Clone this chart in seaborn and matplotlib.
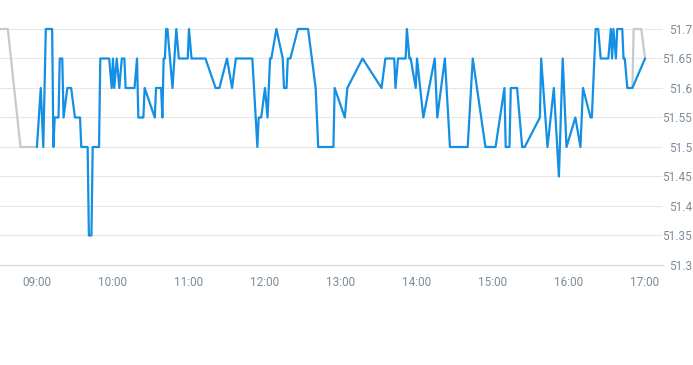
# intraday price line, blue for the session, grey for pre/after hours

import numpy as np
import pandas as pd
import seaborn as sns
import matplotlib
matplotlib.use('Agg')
import matplotlib.pyplot as plt
import matplotlib.dates as mdates

DAY = '2024-01-02 '

# session (blue)
session_times = [
  '09:00', '09:03', '09:05', '09:07', '09:12', '09:13', '09:14', '09:17', '09:18', '09:20',
  '09:21', '09:24', '09:27', '09:30', '09:34', '09:35', '09:40', '09:41', '09:43', '09:44',
  '09:49', '09:50', '09:57', '09:59', '10:00', '10:01', '10:03', '10:05', '10:07', '10:09',
  '10:10', '10:17', '10:19', '10:20', '10:24', '10:25', '10:33', '10:34', '10:38', '10:39',
  '10:40', '10:41', '10:42', '10:43', '10:47', '10:50', '10:52', '10:59', '11:00', '11:02',
  '11:13', '11:21', '11:24', '11:30', '11:34', '11:37', '11:50', '11:54', '11:55', '11:57',
  '12:00', '12:02', '12:04', '12:05', '12:09', '12:14', '12:15', '12:17', '12:18', '12:20',
  '12:26', '12:34', '12:40', '12:42', '12:54', '12:55', '13:03', '13:05', '13:17', '13:32',
  '13:35', '13:42', '13:43', '13:45', '13:51', '13:52', '13:54', '13:55', '13:59', '14:00',
  '14:05', '14:14', '14:16', '14:22', '14:26', '14:40', '14:44', '14:54', '15:02', '15:09',
  '15:10', '15:13', '15:14', '15:19', '15:23', '15:25', '15:37', '15:38', '15:43', '15:48',
  '15:52', '15:55', '15:58', '16:05', '16:09', '16:11', '16:17', '16:18', '16:21', '16:23',
  '16:25', '16:31', '16:33', '16:34', '16:35', '16:37', '16:38', '16:42', '16:43', '16:44',
  '16:46', '16:50', '17:00',
]
session_prices = [
  51.50, 51.60, 51.50, 51.70, 51.70, 51.50, 51.55, 51.55, 51.65, 51.65,
  51.55, 51.60, 51.60, 51.55, 51.55, 51.50, 51.50, 51.35, 51.35, 51.50,
  51.50, 51.65, 51.65, 51.60, 51.65, 51.60, 51.65, 51.60, 51.65, 51.65,
  51.60, 51.60, 51.65, 51.55, 51.55, 51.60, 51.55, 51.60, 51.60, 51.55,
  51.65, 51.65, 51.70, 51.70, 51.60, 51.70, 51.65, 51.65, 51.70, 51.65,
  51.65, 51.60, 51.60, 51.65, 51.60, 51.65, 51.65, 51.50, 51.55, 51.55,
  51.60, 51.55, 51.65, 51.65, 51.70, 51.65, 51.60, 51.60, 51.65, 51.65,
  51.70, 51.70, 51.60, 51.50, 51.50, 51.60, 51.55, 51.60, 51.65, 51.60,
  51.65, 51.65, 51.60, 51.65, 51.65, 51.70, 51.65, 51.65, 51.60, 51.65,
  51.55, 51.65, 51.55, 51.65, 51.50, 51.50, 51.65, 51.50, 51.50, 51.60,
  51.50, 51.50, 51.60, 51.60, 51.50, 51.50, 51.55, 51.65, 51.50, 51.60,
  51.45, 51.65, 51.50, 51.55, 51.50, 51.60, 51.55, 51.55, 51.70, 51.70,
  51.65, 51.65, 51.70, 51.65, 51.70, 51.65, 51.70, 51.70, 51.65, 51.65,
  51.60, 51.60, 51.65,
]

# pre-market (grey)
pre_times = ['08:25', '08:37', '08:47', '09:00']
pre_prices = [51.70, 51.70, 51.50, 51.50]

# after hours (grey)
post_times = ['16:50', '16:51', '16:57', '17:00']
post_prices = [51.60, 51.70, 51.70, 51.65]

y_ticks = [51.3, 51.35, 51.4, 51.45, 51.5, 51.55, 51.6, 51.65, 51.7]
y_labels = ['51.3', '51.35', '51.4', '51.45', '51.5', '51.55', '51.6', '51.65', '51.7']
x_ticks = ['09:00', '10:00', '11:00', '12:00', '13:00', '14:00', '15:00', '16:00', '17:00']

def frame(times, prices, part):
  return pd.DataFrame({'time': pd.to_datetime([DAY + t for t in times]),
                       'price': prices, 'part': part})

sns.set_style('white')
plt.rcParams['font.family'] = ['Liberation Sans Narrow', 'Roboto', 'DejaVu Sans']

LABEL = '#7d8b99'

fig = plt.figure(figsize=(6.93, 3.65), dpi=100)
ax = fig.add_axes([0.0, 1 - 265 / 365, 663 / 693, (265 - 20) / 365])

for times, prices, part, colour in [(pre_times, pre_prices, 'pre', '#c3cbd2'),
                                    (post_times, post_prices, 'post', '#c3cbd2'),
                                    (session_times, session_prices, 'session', '#138fe3')]:
  sns.lineplot(data=frame(times, prices, part), x='time', y='price',
               estimator=None, sort=False, color=colour, linewidth=1.6, ax=ax)

ax.set_xlim(pd.Timestamp(DAY + '08:30:50'), pd.Timestamp(DAY + '17:14:10'))
ax.set_ylim(51.3, 51.7 + 9 * 0.05 / 29.5)

ax.set_xticks(pd.to_datetime([DAY + t for t in x_ticks]))
ax.xaxis.set_major_formatter(mdates.DateFormatter('%H:%M'))
ax.set_yticks(y_ticks)
ax.set_yticklabels(y_labels)
ax.yaxis.tick_right()
ax.grid(axis='y', color='#e6e6e6', linewidth=0.8)
ax.grid(axis='x', visible=False)

ax.tick_params(axis='x', length=4, width=0.8, color='#ccd6eb', pad=4, labelsize=8.5, labelcolor=LABEL)
ax.tick_params(axis='y', length=0, pad=21, labelsize=8.5, labelcolor=LABEL)
for lbl in ax.get_yticklabels():
  lbl.set_horizontalalignment('right')

for side in ['top', 'left', 'right']:
  ax.spines[side].set_visible(False)
ax.spines['bottom'].set_color('#ccd6eb')
ax.spines['bottom'].set_linewidth(0.8)
ax.set_xlabel('')
ax.set_ylabel('')

fig.savefig('out.png', dpi=100, facecolor='white')
